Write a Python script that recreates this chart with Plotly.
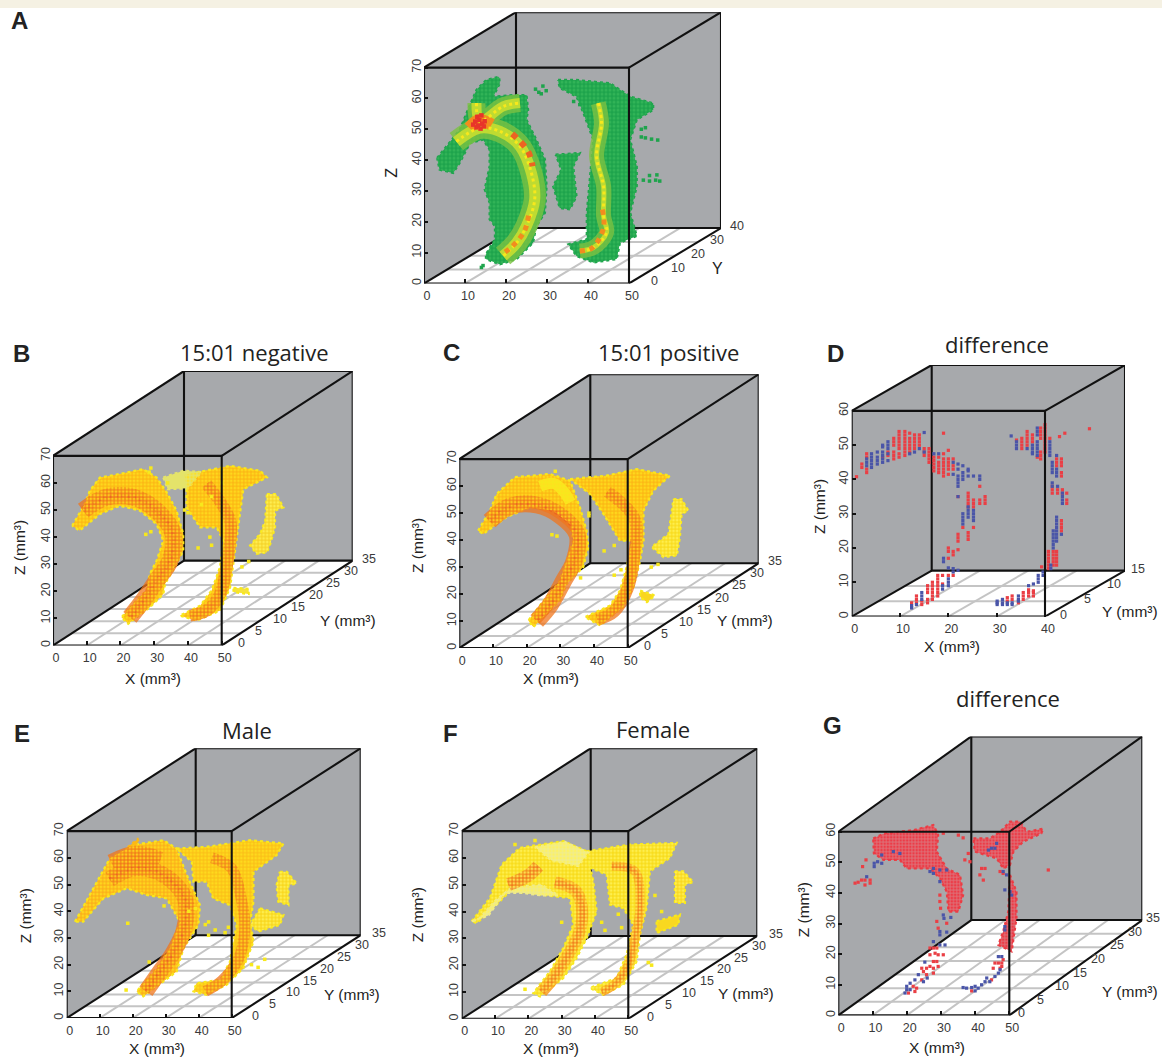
import plotly.graph_objects as go

W, H = 1162, 1062
WALL = "#a7a9ac"; GRID = "#c4c4c4"; INK = "#111111"; TXT = "#3a3a3a"
GREEN = "#1ea44c"; LIME = "#b4d335"; YEL = "#f7e81c"; GOLD = "#fcb915"
ORG = "#f28c1e"; DEEP = "#ec6322"; RED = "#e8342a"; PALE = "#efec9a"
DRED = "#ea3f45"; DBLUE = "#4a55a8"

# ---------- panel A (x, z read against the front axes) ----------
A_LEFT = [(3.2,40.7),(5.5,44.5),(8.7,49.8),(10.7,56.3),(12.8,62.8),(15.2,66),(18.3,67),(18.5,64.9),(16.9,60.6),(21.7,61.1),(25,61.1),(25.4,56.3),(25,53.1),(27.4,46.6),(29.5,40.2),(29.9,31.5),(29.5,22.9),(27.4,18.6),(26.6,13.2),(22.6,7.9),(18.5,6.2),(15.1,7.9),(15.1,9.5),(17.3,14.3),(17.3,18.6),(16,20.8),(16,26.2),(14.8,30.5),(16,38),(16,43.4),(14.4,46.6),(11.2,45.5),(8.7,39.1),(7.1,35.8),(3.8,36.9)]
A_RIGHT = [(32.7,66),(37.1,66),(45.4,64.9),(50.3,60.6),(55.9,58.4),(55.9,56.3),(51.9,53.1),(50.3,46.6),(51.9,38),(51.9,31.5),(50.3,22.9),(51.9,15.4),(47.8,13.2),(47,7.9),(41.3,6.8),(37.2,8.9),(35.2,12.7),(39.7,14.3),(39.7,22.9),(40.5,33.7),(41.3,46.6),(38.9,55.2),(37.2,60.6),(33.1,63.4)]
A_MID = [(32.1,41.8),(38,42.3),(36.4,38),(37.2,28.3),(35.6,24),(33.1,24.5),(31.5,31.5),(33.5,36.9)]
A_ARC = [(7.9,46),(13.6,50.4),(18.5,49.3),(23.4,44.5),(26.2,35.8),(27,27.2),(25,18.6),(22.6,13.2),(19.3,8.9)]
A_BRANCH = [(12.8,58.5),(13.6,52.5),(19.3,57.4),(23.4,58.5)]
A_RARC = [(42.5,58.5),(43.3,52),(42.1,41.2),(43.8,31.5),(43.8,21.9),(44.5,16.5),(41.3,11.6),(38,10.5)]
A_ORANGE = [(21.5,48.5),(23.5,46),(25.5,42.5),(26.5,38)]
A_ORANGE2 = [(25.5,22),(24.5,17),(21.5,12),(19,9.5)]
A_ORANGE3 = [(43.5,24),(43.8,18),(41,11.5),(38,10.5)]
A_HOT = [(12.5,52.5),(13.5,53),(14.2,51.8),(13.2,51.2),(12.8,50.6),(14.8,52.6),(13.8,50.2),(14.6,50.9),(12,51.5),(13,54),(14,54.5)]
A_HALO = [(11,50.5),(13.5,53),(16.5,51.5)]
A_ISLES = [(27.2,63),(28,62),(28.6,61.5),(29,64),(29.8,62.5),(36.5,59),(38,58),(53,47.5),(54,47.2),(55.5,46.8),(57,46.5),(53.5,33.5),(55,33.2),(56.5,33.5),(57.5,33.2),(55,35),(56.8,35.2),(53,50),(54,50.5),(14,5.2),(14.4,5.8)]

# ---------- panel B ----------
B_LEFT = [(5.7,44.2),(9.4,52.2),(10.9,57.1),(13.9,62),(19.8,63.3),(26.7,65.1),(30.7,62),(33.7,56.5),(36.6,49.8),(38.6,41.2),(38.6,35),(36.6,30.1),(33.2,22.7),(32.7,19),(28.7,14.1),(22.3,8),(20.3,10.4),(23.8,15.4),(27.7,20.3),(28.7,26.4),(30.7,31.3),(32.7,38.7),(30.7,44.8),(25.7,49.8),(19.8,51.6),(13.9,48.5),(7.9,42.4)]
B_RIGHT = [(39,63),(44,64.2),(52.5,66.3),(61.4,64.5),(63.4,62),(56.4,57.7),(55.4,48.5),(54.5,38.7),(53.5,31.3),(52.5,21.5),(49.5,12.9),(42.6,9.2),(37.6,11),(43.6,14.7),(47,20.3),(49.5,28.9),(50.5,38.7),(48.5,43.6),(43.6,43.6),(39.6,51),(39.6,57.1)]
B_PALE = [(32.7,62),(38.6,64.5),(44,64),(40,58),(34,57.7)]
B_FAR = [(63.4,55.9),(66.1,55.9),(68.3,51),(65.8,49.8),(65.8,43.6),(64.4,37.5),(63.4,34.4),(60.4,33.8),(58.4,36.9),(61.4,41.2),(62.9,46.1)]
B_FLOOR = [(53.5,21.3),(58,20.9),(58,19),(53.5,19.7)]
B_CORE = [(8.9,49.8),(15.8,54.7),(23.8,54.7),(30.7,49.8),(35.6,41.2),(34.7,31.3),(30.7,24),(26.7,16.6),(22.8,10.4)]
B_RCORE = [(45.5,59.6),(52.5,46),(52,33.8),(49.5,19),(45.5,12.9),(40.6,11)]
B_DOTS = [(28.5,64),(29,65.5),(34,60),(39,50),(40,49),(27.5,41),(29,42),(46.5,40),(43,36),(47,37),(56,29),(58,31),(50,60),(47,55),(44,52)]

# ---------- panel C ----------
C_LEFT = [(5.6,43.5),(9.1,50.9),(11.1,57.1),(16.5,63.3),(26.9,64.5),(32.9,62),(35.8,52.2),(37.8,43.5),(38.3,37.4),(36.8,30),(31.9,23.8),(29.9,17.6),(22,7.8),(20.5,10.2),(25.9,18.9),(29.9,25),(31.9,32.4),(33.9,39.8),(32.9,46),(27.9,50.9),(21,52.2),(14.1,48.5),(7.1,42.3)]
C_RIGHT = [(32.9,62.6),(43.8,63.9),(52.7,66.3),(62.6,63.9),(57.6,58.3),(54.7,50.9),(54.7,39.8),(53.7,32.4),(51.7,22.6),(48.7,15.2),(41.8,8.4),(37.3,11.5),(44.8,15.8),(47.7,21.3),(49.7,30),(51.2,39.8),(47.7,39.8),(42.8,49.7),(38.8,57.1)]
C_FAR = [(63.6,55.2),(66,55.2),(68,50.9),(66,49.7),(65.5,41),(64.6,34.3),(60.6,33.7),(57.1,37.4),(62.1,42.3)]
C_FLOOR = [(53.7,21.3),(58.1,19.5),(55.7,17),(53.7,18.9)]
C_CORE = [(9,47),(15,52.5),(23,53),(30,49),(35,42),(34,32),(31,25),(27,16),(23,10)]
C_RCORE = [(44,58),(52,48),(52,35),(50,22),(46,13.5),(41,10.5)]
C_YELLOW = [(24,60),(28,61),(31,58),(33,54)]
C_DOTS = [(28.5,65.5),(29,41.5),(27.5,42),(43,36),(46,38),(38.5,50),(38.5,49),(36,26),(48,29),(46,27),(57,30),(59,31)]

# ---------- panel E ----------
E_LEFT = [(2.5,36.1),(9.1,51.1),(13.1,59.8),(20.2,64.8),(29.3,66.6),(33.3,63.5),(36.4,53.5),(40.4,42.3),(39.9,34.9),(35.4,26.2),(33.3,17.4),(23.2,8.1),(21.2,10),(27.3,18.7),(31.3,26.2),(34.3,36.1),(30.3,44.8),(24.2,46.1),(18.2,48.6),(11.1,44.8),(5,36.1)]
E_RIGHT = [(33.3,63.5),(42.4,64.1),(55.6,66.6),(65.7,65.4),(63.6,61),(56.6,54.8),(56.6,43.6),(55.6,36.1),(56.6,28.6),(53.5,18.7),(48.5,12.5),(42.4,8.7),(38.4,10),(39.4,13.1),(46.5,14.3),(49.5,21.2),(51.5,34.9),(49.5,42.3),(44.4,44.8),(42.4,51.1),(38.4,51.1),(37.9,58.5)]
E_FAR = [(64.6,54.8),(66.7,54.8),(69.7,50.4),(67.2,49.8),(67.2,42.3),(64.1,43.6),(63.6,49.8)]
E_FAR2 = [(58.6,41.1),(65.7,38.6),(64.6,34.9),(58.1,32.4),(55.6,34.9)]
E_WISP = [(18.5,64),(21.5,67),(21.8,66),(20,63.5)]
E_CORE = [(13,52),(20,56),(27,55),(33,50),(36,44),(35.5,33),(32,24),(28,17),(24,10)]
E_CORE2 = [(14,57),(21,60),(28,58)]
E_RCORE = [(44,60),(50,56),(53,44),(54,34),(52,22),(47,14),(42,10)]
E_DOTS = [(18.5,35.5),(39,41),(42,35),(43,36),(45,33),(48,32),(49,34),(18,10.5),(25,21),(56,20),(58,19),(43,31),(29.5,42),(37,40),(60,22)]

# ---------- panel F ----------
F_LEFT = [(3,36.4),(8.5,45.1),(12,57.5),(17.5,63.8),(30.5,66.3),(37.5,62.5),(39.5,51.3),(40.5,40.1),(37.5,30.1),(34.5,22.7),(30.5,15.2),(23.5,8.3),(21.5,9.6),(26.5,17.7),(30.5,26.4),(33.5,35.1),(32.5,45.1),(27.5,45.7),(20.5,46.9),(14.5,47.6),(7.5,38.9),(4.5,35.7)]
F_RIGHT = [(37.5,62.5),(50.5,65),(64.5,65.6),(62.5,60),(56.5,55),(55.5,41.3),(53.5,31.4),(52.5,21.4),(48.5,12.7),(42.5,9),(38.5,11.5),(46.5,15.2),(49.5,23.9),(51.5,35.1),(48.5,41.3),(44.5,42.6),(43.5,53.8),(38.5,56.3)]
F_FAR = [(64,55),(66.5,55),(69.5,51),(67,50),(67,43.2),(64,43.2)]
F_FAR2 = [(58.5,36.4),(65.5,38.9),(65,35.1),(58.5,32)]
F_PALE = [(3,36.4),(8,38.5),(13,47),(18,47),(24,46),(29,46),(24,50),(15,49),(10,44),(5,37)]
F_PALE2 = [(22,64),(31,66),(38,62),(35,57),(27,59)]
F_CORE = [(14,50),(20,53.5),(23,57)]
F_CORE2 = [(28,51),(34,48),(36,42),(35.5,33),(32,24),(28,16),(24,10)]
F_RCORE = [(45,57),(52,55),(53.5,42),(52,30),(50,20),(46,13),(42,10)]
F_DOTS = [(19,11),(30,36),(42,36),(43,33),(48,34),(47,39),(56,21),(57,20),(16,65),(22,66.5),(58,46),(60,40)]

# ---------- panel D: columns of cells, x then z values ----------
D_RED_COLS = [(1,[40.8]),(2.1,[43.5,44.5]),(3.1,[42,43,46.5,47.5]),(6.4,[46.5]),(7.5,[47,48]),(8.7,[46,47,48,50,51,52]),(9.8,[46.5,47.5,49,50,51,52,53,54]),(11,[47,48,49,50,51,52,53,54]),(12,[48,49,50,51,52,53.5]),(13,[49,50,51,52,53]),(14,[50,51,52,53]),(15,[47,48,49]),(16,[45,46,47,48,49]),(17,[42.5,43.5,44.5,45.5,46.5]),(18,[42,43,44,45,46.5]),(19,[41,42,43,44,45,46,47.5,53.5]),(20,[41.5,43,44,45,46,48.5,17,19,20]),(21,[43,44,46,18,19]),(22,[35,22,23,24,19.5]),(23,[26]),(24.1,[32,33,34,35,36,22.5,23.5,24.5]),(25.2,[32,33,34,26]),(26.5,[33,34,38]),(27.6,[33,34,35]),(12.4,[4]),(13.4,[4,5,6]),(14.5,[3.5,4.5]),(15.7,[4,5,7,8,9]),(16.7,[5,6,7,8,9,10]),(17.8,[6,7,8,9,10,11,12]),(18.8,[9.5,12]),(20,[12]),(21,[12]),(32.2,[4.5,5.5]),(33.2,[5,6]),(34.5,[4]),(35.5,[5,6,7]),(36.6,[6,7,7.8]),(37.6,[6,7,7.5]),(39.3,[14.5]),(40.7,[14,15,16,17,18,19]),(41.7,[15,16,17,18,19]),(42.4,[15,16,17,18,19,44,45,46]),(43.4,[25,26,27,28,41,42,44,45,46]),(43.6,[36,37]),(44.5,[33,34,36]),(42.6,[36,37]),(41.5,[36,37,38]),(34.1,[51.5]),(35.2,[49,50,51,52]),(36.3,[50,51,52,53,54]),(37.4,[51,52,53]),(38.4,[46.5]),(39.1,[46,47,48,52,53,54,55]),(40,[48,49,50,51,52,53,54,55,56]),(41,[52]),(43,[52.5]),(44.1,[53.5]),(49.2,[54.8])]
D_BLUE_COLS = [(3.1,[44,45,46]),(4.1,[43.5,44.5,45.5,46.5,47.5]),(5.3,[44.5,45.5,46.5,48]),(6.4,[45,46,47,48,49.5,50]),(7.5,[45.5,47.5,49,50,51]),(12,[47.5]),(13,[48]),(14,[49]),(15,[53.7,48]),(17,[47.5]),(18,[47.5]),(21,[41.5,45]),(22,[38,39,40,41,43,44.5,35]),(23,[40,41,42,44,27,28,29,30]),(24.1,[41,42.5,43,29,30,31,32]),(25.2,[41,28,29,30,31]),(26.5,[40,41]),(19,[16,17]),(20,[14.2]),(12.4,[2.5,3.2]),(13.4,[3.5]),(14.5,[5,6,7]),(18.8,[8,9]),(20,[9,10,11]),(21,[13,14]),(22,[13.5]),(30.1,[3.5,4,4.5]),(31.2,[3.5,4,5]),(32.2,[3.5,4]),(33.2,[3.5,4]),(34.5,[4.5,5,6]),(36.6,[9]),(37.6,[9.5]),(38.6,[10,11,12]),(39.6,[12,13]),(41.2,[14,15]),(41.7,[20,21,22,23,24,25]),(42.4,[22,23,24,25,26,27,28,29,41,42,43,47]),(43.4,[24]),(43.6,[33,34,35,36]),(42.6,[38]),(41.5,[38,39,42,43,44,45]),(33,[52.7]),(34.1,[49,50,51]),(36.3,[49]),(37.4,[47.5,48,49,50]),(38.4,[47,48,49,50,51,53,54,55]),(41,[47,48,49,50,51])]

# ---------- panel G ----------
G_MASS = [(10.2,57.8),(13.6,59.5),(21.9,60.5),(27.8,62.2),(29.2,59),(28.8,53.5),(31.7,48),(35.6,45.9),(36.5,39.3),(35.1,33.9),(32.2,33.9),(31.7,40.4),(29.7,44.8),(26.8,48),(20,48),(18,50.8),(13.2,50.8),(10.4,52.9)]
G_TOP = [(39.5,57.8),(44.3,57.8),(47.3,60),(50.2,63.3),(53.2,63.3),(55.1,60),(59.9,61),(59.4,59.5),(54,56.7),(51.2,53.5),(50.2,49.1),(48.2,48),(46.3,51.3),(39.9,53.5)]
G_COL = [(50.2,45.9),(52.1,40.4),(52.1,31.7),(50.7,20.9),(46.8,23),(48.2,27.4),(49.7,33.9)]
G_RED = [(4.9,43.2),(5.8,43.5),(6.8,44.2),(7.8,44.2),(7.8,42.6),(9.3,44.2),(9.3,43.2),(7.1,48.6),(8.1,50.8),(29.7,39.3),(29.7,37.2),(29.9,35),(28.8,30.7),(29.2,28.5),(31.7,30.1),(26.8,22),(27.8,22),(28.8,22),(28.3,20.3),(29.2,19.8),(30.7,19.8),(26.8,19.8),(27.8,17.6),(28.8,17.6),(29.2,16),(27.8,15.4),(26.8,16),(25.8,15.4),(24.9,14.3),(25.8,13.3),(27.8,13.8),(24.4,15.4),(20.5,7.3),(21.9,9.5),(22.9,8.9),(22.4,7.8),(24.4,11.6),(39,8),(44.8,11.6),(47.3,15.4),(45.8,17.1),(46.8,17.1),(47.8,17.1),(47.8,16),(45.3,15.4),(48.2,18.2),(37,50.8),(38.5,50.2),(38,52.9),(41.9,48),(42.9,48),(41.4,45.9),(42.4,44.2),(47.3,47),(48.2,46.4),(61.4,47.5),(30.7,59.5),(35.1,58.9),(36.5,58)]
G_BLUE = [(8.3,45.3),(10.5,48.6),(10.5,49.7),(11.5,50.2),(12.7,49.7),(12.7,52.4),(16.1,53.5),(18,52.9),(26.8,47),(27.8,48),(27.8,46.4),(29.7,47.5),(31.7,47.5),(29.7,43.7),(30.7,32.8),(30.9,31.7),(32.9,32),(29.7,27.4),(29.7,26.3),(31.7,27.2),(27.8,24.1),(29.7,23),(31.2,23),(25.3,17.4),(23.4,13.3),(22.4,11.6),(21,10.5),(20,9.5),(20,8.4),(19.5,7.3),(21,8.4),(24.9,11),(26,12.2),(36.5,9.1),(37.5,8.9),(39,9.1),(40,9.5),(40,8),(40.9,8.9),(41.9,10),(42.9,11),(44.3,11),(43.4,12.2),(45.8,12.7),(46.8,13.8),(47.3,14.9),(46.8,19.2),(47.8,19.2),(48.7,29),(48.7,27.9),(50.2,40.4),(50.7,39.3),(48.7,41),(43.9,54),(44.8,54.6),(45.8,54.6),(46.3,56.2),(48.2,47),(49.2,45.9)]

# ---------- axes ----------
X_TICKS_50 = [0,10,20,30,40,50]
X_TICKS_40 = [0,10,20,30,40]
Z_TICKS_70 = [0,10,20,30,40,50,60,70]
Z_TICKS_60 = [0,10,20,30,40,50,60]
Y_TICKS_A = [0,10,20,30,40]
Y_TICKS_35 = [0,5,10,15,20,25,30,35]
Y_TICKS_D = [0,5,10,15]

# layout of each box on the page: front-left, front-right, front-top, front-bottom, back offset x, back offset y
PANELS = {
 "A": dict(box=(424,629,67.7,284,92,55.5), xt=X_TICKS_50, zt=Z_TICKS_70, yt=Y_TICKS_A, shift=(20,7)),
 "B": dict(box=(53,221.7,456.7,646.7,131,85), xt=X_TICKS_50, zt=Z_TICKS_70, yt=Y_TICKS_35, shift=(14,7)),
 "C": dict(box=(459.3,627.7,460,649.3,131,85), xt=X_TICKS_50, zt=Z_TICKS_70, yt=Y_TICKS_35, shift=(14,7)),
 "D": dict(box=(851.7,1045,411.7,617.7,80,46), xt=X_TICKS_40, zt=Z_TICKS_60, yt=Y_TICKS_D, shift=(13,4)),
 "E": dict(box=(66.7,231.7,832.7,1020,129,83), xt=X_TICKS_50, zt=Z_TICKS_70, yt=Y_TICKS_35, shift=(18,9)),
 "F": dict(box=(461.7,628.3,832.7,1020.7,129,83), xt=X_TICKS_50, zt=Z_TICKS_70, yt=Y_TICKS_35, shift=(17,10)),
 "G": dict(box=(838.3,1009.3,833.3,1017.3,133,95.5), xt=X_TICKS_50, zt=Z_TICKS_60, yt=Y_TICKS_35, shift=(7,2)),
}

LAB = 15.5
XL, YL, ZL = "X (mm³)", "Y (mm³)", "Z (mm³)"
LABELS = [
 # text, page x, page y, size, family, bold, angle
 ("A",20,21,24,"Liberation Sans",True,0),("B",21,354,24,"Liberation Sans",True,0),("C",451,353,24,"Liberation Sans",True,0),
 ("D",835,354,24,"Liberation Sans",True,0),("E",22,735,24,"Liberation Sans",True,0),("F",450,735,24,"Liberation Sans",True,0),("G",832,727,24,"Liberation Sans",True,0),
 ("15:01 negative",254,353,22,"Open Sans",False,0),("15:01 positive",668,353,22,"Open Sans",False,0),("difference",997,345,22,"Open Sans",False,0),
 ("Male",247,731,22,"Open Sans",False,0),("Female",653,730,22,"Open Sans",False,0),("difference",1008,699,22,"Open Sans",False,0),
 ("Z",392,173,16,"Liberation Sans",False,-90),("Y",717,269,16,"Liberation Sans",False,0),
 (XL,153,680,LAB,"Liberation Sans",False,0),(YL,348,622,LAB,"Liberation Sans",False,0),(ZL,20,548,LAB,"Liberation Sans",False,-90),
 (XL,551,680,LAB,"Liberation Sans",False,0),(YL,745,622,LAB,"Liberation Sans",False,0),(ZL,418,547,LAB,"Liberation Sans",False,-90),
 (XL,952,648,LAB,"Liberation Sans",False,0),(YL,1130,613,LAB,"Liberation Sans",False,0),(ZL,819,508,LAB,"Liberation Sans",False,-90),
 (XL,157,1050,LAB,"Liberation Sans",False,0),(YL,352,996,LAB,"Liberation Sans",False,0),(ZL,25,918,LAB,"Liberation Sans",False,-90),
 (XL,551,1050,LAB,"Liberation Sans",False,0),(YL,746,995,LAB,"Liberation Sans",False,0),(ZL,417,917,LAB,"Liberation Sans",False,-90),
 (XL,937,1049,LAB,"Liberation Sans",False,0),(YL,1130,993,LAB,"Liberation Sans",False,0),(ZL,803,912,LAB,"Liberation Sans",False,-90),
]

# texture colours of the cell grid laid over the regions
SPECK_HOT = "#ffe01e"
SPECK_F = "#fff25a"
SPECK_G = "#f0303c"
SPECK_A = "#36b85a"
BAND_A = "rgba(124,194,66,0.8)"
BAND_LIME = "rgba(200,222,48,0.9)"
BAND_O = "rgba(240,118,28,0.75)"
BAND_Y = "rgba(248,150,24,0.8)"

LAYERS = {
 "A": [("poly",A_LEFT,GREEN,GREEN),("poly",A_RIGHT,GREEN,GREEN),("poly",A_MID,GREEN,GREEN),
       ("grid",A_LEFT,SPECK_A,4),("grid",A_RIGHT,SPECK_A,4),("grid",A_MID,SPECK_A,4),
       ("dots",A_ISLES,GREEN,3.5),("band",A_ARC,BAND_A,22),("band",A_BRANCH,BAND_A,18),("band",A_RARC,BAND_A,15),
       ("band",A_ARC,BAND_LIME,11),("band",A_BRANCH,BAND_LIME,10),("band",A_RARC,BAND_LIME,5),("band",A_HALO,ORG,12),
       ("bead",A_ARC,YEL,3),("bead",A_BRANCH,YEL,3),("bead",A_RARC,YEL,3),
       ("bead",A_ORANGE,DEEP,6),("bead",A_ORANGE2,ORG,5),("bead",A_ORANGE3,ORG,5),("dots",A_HOT,RED,4.5)],
 "B": [("poly",B_LEFT,GOLD,YEL),("poly",B_RIGHT,GOLD,YEL),("poly",B_PALE,"#e4e36a","#e4e36a"),("poly",B_FAR,"#f6d52c",YEL),("poly",B_FLOOR,"#f6e23a",YEL),
       ("band",B_CORE,BAND_O,17),("band",B_RCORE,BAND_O,12),("band",B_CORE,BAND_O,8),("band",B_RCORE,BAND_O,5),("bead",B_CORE,DEEP,3),
       ("grid",B_LEFT,SPECK_HOT,3.6),("grid",B_RIGHT,SPECK_HOT,3.6),("grid",B_FAR,SPECK_F,3.6),("dots",B_DOTS,YEL,3.5)],
 "C": [("poly",C_LEFT,GOLD,YEL),("poly",C_RIGHT,GOLD,YEL),("poly",C_FAR,"#f9dc20",YEL),("poly",C_FLOOR,"#f9d520",YEL),
       ("band",C_CORE,BAND_O,17),("band",C_RCORE,BAND_O,12),("band",C_CORE,BAND_O,8),("band",C_RCORE,BAND_O,5),("band",C_YELLOW,YEL,11),("bead",C_CORE,DEEP,3),
       ("grid",C_LEFT,SPECK_HOT,3.6),("grid",C_RIGHT,SPECK_HOT,3.6),("grid",C_FAR,SPECK_F,3.6),("dots",C_DOTS,YEL,3.5)],
 "E": [("poly",E_LEFT,"#fbb11a",YEL),("poly",E_RIGHT,"#fbc218",YEL),("poly",E_WISP,GOLD,GOLD),("poly",E_FAR,"#f9d820",YEL),("poly",E_FAR2,"#f9d820",YEL),
       ("band",E_CORE,BAND_O,16),("band",E_CORE2,BAND_O,24),("band",E_RCORE,BAND_O,11),("band",E_CORE,BAND_O,7),("band",E_CORE2,BAND_O,10),("bead",E_CORE,DEEP,3),
       ("grid",E_LEFT,SPECK_HOT,3.6),("grid",E_RIGHT,SPECK_HOT,3.6),("grid",E_FAR,SPECK_F,3.6),("grid",E_FAR2,SPECK_F,3.6),("dots",E_DOTS,YEL,3.5)],
 "F": [("poly",F_LEFT,"#f8dc1c",YEL),("poly",F_RIGHT,"#f8dc1c",YEL),("poly",F_PALE,"#eeea8c","#eeea8c"),("poly",F_PALE2,"#f0ec8c","#f0ec8c"),("poly",F_FAR,"#f9d820",YEL),("poly",F_FAR2,"#f9d820",YEL),
       ("band",F_CORE,BAND_O,13),("band",F_CORE2,BAND_Y,12),("band",F_RCORE,BAND_Y,9),("band",F_CORE,BAND_O,6),("band",F_CORE2,BAND_O,6),("band",F_RCORE,BAND_O,4),
       ("grid",F_LEFT,SPECK_F,3.6),("grid",F_RIGHT,SPECK_F,3.6),("grid",F_FAR,SPECK_F,3.6),("dots",F_DOTS,YEL,3.5)],
 "D": [("cols",D_RED_COLS,DRED,3.2),("cols",D_BLUE_COLS,DBLUE,3.2)],
 "G": [("poly",G_MASS,"#df6a72",DRED),("poly",G_TOP,"#df6a72",DRED),("poly",G_COL,"#df6a72",DRED),
       ("grid",G_MASS,SPECK_G,3.2),("grid",G_TOP,SPECK_G,3.2),("grid",G_COL,SPECK_G,3.2),("dots",G_RED,DRED,3.2),("dots",G_BLUE,DBLUE,3.2)],
}

fig = go.Figure()
layout = {}
anns = []

def line(ax, pts, color, width, dash=None, fill=None, fillcolor=None, mode="lines", spline=False, pattern=None):
    kw = dict(fillpattern=pattern) if pattern else {}
    fig.add_trace(go.Scatter(x=[p[0] for p in pts], y=[p[1] for p in pts], mode=mode, xaxis=ax[0], yaxis=ax[1],
        line=dict(color=color, width=width, dash=dash, shape="spline" if spline else "linear"),
        fill=fill, fillcolor=fillcolor, hoverinfo="skip", showlegend=False, cliponaxis=False, **kw))

def dots(ax, pts, color, size):
    fig.add_trace(go.Scatter(x=[p[0] for p in pts], y=[p[1] for p in pts], mode="markers", xaxis=ax[0], yaxis=ax[1],
        marker=dict(color=color, size=size, symbol="square", line=dict(width=0)), hoverinfo="skip", showlegend=False, cliponaxis=False))

for i, (name, p) in enumerate(PANELS.items(), start=1):
    L, R, T, B, dx, dy = p["box"]
    xmax, zmax, ymax = p["xt"][-1], p["zt"][-1], p["yt"][-1]
    ux, uz = (R - L) / xmax, (B - T) / zmax
    depth_x, depth_z = dx / ux, dy / uz

    def proj(x, y, z):
        return (x + y / ymax * depth_x, z + y / ymax * depth_z)

    sx = "" if i == 1 else str(i)
    ax = ("x" + sx, "y" + sx)
    layout["xaxis" + sx] = dict(domain=[L / W, (R + dx) / W], range=[0, xmax + depth_x], anchor=ax[1], showgrid=False, zeroline=False,
        showline=False, tickmode="array", tickvals=p["xt"], ticks="inside", ticklen=4, tickwidth=2, tickcolor=INK, ticklabelshift=3, ticklabelstandoff=3,
        tickfont=dict(family="Liberation Sans", size=12.5, color=TXT))
    layout["yaxis" + sx] = dict(domain=[1 - B / H, 1 - (T - dy) / H], range=[0, zmax + depth_z], anchor=ax[0], showgrid=False, zeroline=False,
        showline=False, tickmode="array", tickvals=p["zt"], ticks="inside", ticklen=4, tickwidth=2, tickcolor=INK, tickangle=-90,
        tickfont=dict(family="Liberation Sans", size=12.5, color=TXT))

    hexagon = [proj(0,0,0), proj(0,0,zmax), proj(0,ymax,zmax), proj(xmax,ymax,zmax), proj(xmax,ymax,0), proj(xmax,0,0)]
    line(ax, hexagon + [hexagon[0]], WALL, 0, fill="toself", fillcolor=WALL)
    floor = [proj(0,0,0), proj(xmax,0,0), proj(xmax,ymax,0), proj(0,ymax,0), proj(0,0,0)]
    line(ax, floor, "#ffffff", 0, fill="toself", fillcolor="#ffffff")
    for v in p["yt"][1:-1]:
        line(ax, [proj(0,v,0), proj(xmax,v,0)], GRID, 2)
    for v in p["xt"][1:-1]:
        line(ax, [proj(v,0,0), proj(v,ymax,0)], GRID, 2)
    line(ax, [proj(0,ymax,zmax), proj(0,ymax,0), proj(xmax,ymax,0)], INK, 2.1)
    line(ax, [proj(0,ymax,zmax), proj(xmax,ymax,zmax), proj(xmax,ymax,0)], INK, 2.1)
    line(ax, [proj(0,0,0), proj(0,ymax,0)], INK, 2.1)

    for kind, pts, c, w in LAYERS[name]:
        if kind == "poly":
            line(ax, list(pts) + [pts[0]], w, 2.2, dash="dot", fill="toself", fillcolor=c)
        elif kind == "grid":
            line(ax, list(pts) + [pts[0]], "rgba(0,0,0,0)", 0, fill="toself", fillcolor="rgba(0,0,0,0)",
                 pattern=dict(shape=".", fgcolor=c, bgcolor="rgba(0,0,0,0)", size=w, solidity=0.45, fgopacity=0.8))
        elif kind == "band":
            line(ax, pts, c, w, spline=True)
        elif kind == "bead":
            line(ax, pts, c, w, dash="dot", spline=True)
        elif kind == "dots":
            dots(ax, pts, c, w)
        elif kind == "cols":
            dots(ax, [(col, z) for col, zs in pts for z in zs], c, w)

    line(ax, [proj(0,0,0), proj(0,0,zmax), proj(xmax,0,zmax), proj(xmax,0,0), proj(0,0,0)], INK, 2.1)
    line(ax, [proj(0,0,zmax), proj(0,ymax,zmax)], INK, 2.1)
    line(ax, [proj(xmax,0,zmax), proj(xmax,ymax,zmax)], INK, 2.1)
    line(ax, [proj(xmax,0,0), proj(xmax,ymax,0)], INK, 2.1)

    s0, s1 = p["shift"]
    for v in p["yt"]:
        px, pz = proj(xmax, v, 0)
        anns.append(dict(x=px, y=pz, xref=ax[0], yref=ax[1], text=str(v), showarrow=False, xanchor="left", yanchor="middle",
            xshift=s0 + (s1 - s0) * v / ymax, yshift=2, font=dict(family="Liberation Sans", size=12.5, color=TXT)))

for text, px, py, size, fam, bold, angle in LABELS:
    anns.append(dict(x=px / W, y=1 - py / H, xref="paper", yref="paper", text=f"<b>{text}</b>" if bold else text, showarrow=False,
        xanchor="center", yanchor="middle", textangle=angle, font=dict(family=fam, size=size, color="#222222")))

fig.update_layout(width=W, height=H, margin=dict(l=0, r=0, t=0, b=0), autosize=False, paper_bgcolor="#ffffff", plot_bgcolor="rgba(0,0,0,0)",
    annotations=anns, showlegend=False,
    shapes=[dict(type="rect", xref="paper", yref="paper", x0=0, x1=1, y0=1 - 8 / H, y1=1, fillcolor="#f5f1e3", line=dict(width=0), layer="below")],
    **layout)
fig.write_html("out.html", config=dict(displayModeBar=False), post_script="document.body.style.margin='0';document.documentElement.style.overflow='hidden';")
